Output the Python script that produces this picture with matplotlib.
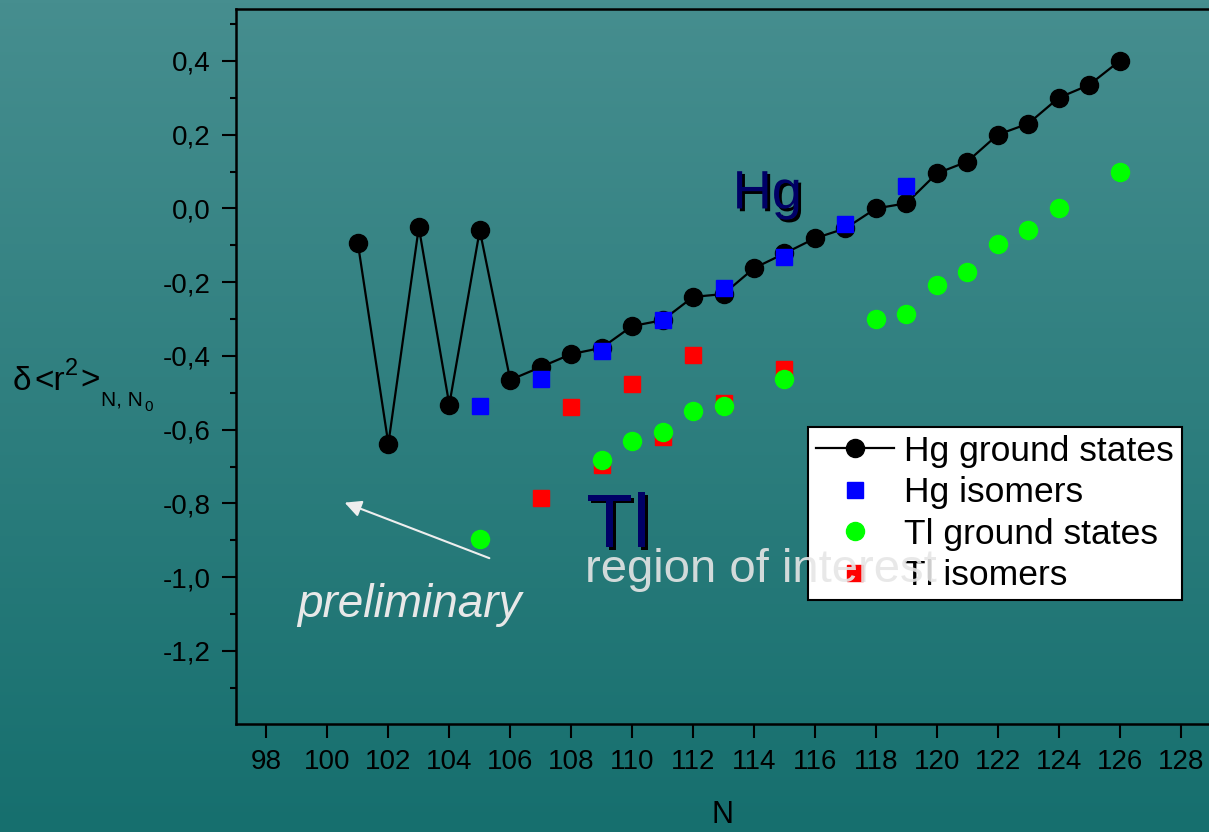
import numpy as np
import matplotlib
matplotlib.use('Agg')
from matplotlib import pyplot as plt
from matplotlib import patheffects as pe
from matplotlib.ticker import MultipleLocator, FuncFormatter

plt.rcParams['font.family'] = ['Liberation Sans', 'DejaVu Sans']

# Hg ground states
n_hg = [101, 102, 103, 104, 105, 106, 107, 108, 109, 110, 111, 112, 113,
        114, 115, 116, 117, 118, 119, 120, 121, 122, 123, 124, 125, 126]
r2_hg = [-0.095, -0.638, -0.051, -0.532, -0.059, -0.465, -0.43, -0.395, -0.378,
         -0.319, -0.303, -0.24, -0.232, -0.162, -0.122, -0.081, -0.054, 0.0,
         0.014, 0.095, 0.127, 0.2, 0.23, 0.3, 0.335, 0.4]

# Hg isomers
n_hg_iso = [105, 107, 109, 111, 113, 115, 117, 119]
r2_hg_iso = [-0.535, -0.462, -0.386, -0.303, -0.216, -0.132, -0.043, 0.062]

# Tl ground states
n_tl = [105, 109, 110, 111, 112, 113, 115, 118, 119, 120, 121, 122, 123, 124, 126]
r2_tl = [-0.897, -0.681, -0.63, -0.605, -0.549, -0.535, -0.462, -0.3, -0.286,
         -0.208, -0.173, -0.097, -0.059, 0.0, 0.1]

# Tl isomers
n_tl_iso = [107, 108, 109, 110, 111, 112, 113, 115]
r2_tl_iso = [-0.786, -0.538, -0.697, -0.476, -0.62, -0.397, -0.527, -0.435]

x_ticks = list(range(98, 129, 2))

W, H = 1209, 832
fig = plt.figure(figsize=(W / 100, H / 100), dpi=100)

# fondo con degradado vertical
bg = fig.add_axes([0, 0, 1, 1], zorder=-10)
grad = np.linspace(0, 1, 256).reshape(-1, 1)
c_top = np.array([70, 142, 143]) / 255
c_bot = np.array([22, 111, 110]) / 255
img = c_top[None, None, :] * (1 - grad[:, :, None]) + c_bot[None, None, :] * grad[:, :, None]
bg.imshow(img, aspect='auto', extent=[0, 1, 0, 1])
bg.axis('off')

ax = fig.add_axes([0.1952, 0.1298, 0.8317, 0.859])
ax.patch.set_alpha(0)

ax.plot(n_hg, r2_hg, '-o', color='black', lw=1.6, ms=13, label='Hg ground states', zorder=3)
ax.plot(n_hg_iso, r2_hg_iso, 's', color='#0000ff', ms=12, label='Hg isomers', zorder=4)
ax.plot(n_tl_iso, r2_tl_iso, 's', color='#ff0000', ms=12, label='Tl isomers', zorder=4)
ax.plot(n_tl, r2_tl, 'o', color='#00ff00', ms=13, label='Tl ground states', zorder=5)

ax.set_xlim(97, 130)
ax.set_ylim(-1.398, 0.54)
ax.set_xticks(x_ticks)
ax.yaxis.set_major_locator(MultipleLocator(0.2))
ax.yaxis.set_minor_locator(MultipleLocator(0.1))
ax.yaxis.set_major_formatter(FuncFormatter(lambda v, p: f'{v:.1f}'.replace('.', ',').replace('-0,0', '0,0')))
ax.tick_params(axis='both', direction='out', width=1.5, labelsize=20, colors='black')
ax.tick_params(axis='y', which='major', length=10, pad=8)
ax.tick_params(axis='y', which='minor', length=4.5, width=1.5)
ax.tick_params(axis='x', which='major', length=10, pad=8)
ax.spines['right'].set_visible(False)
for s in ['left', 'top', 'bottom']:
    ax.spines[s].set_linewidth(1.8)


def ftext(px, py, s, **kw):
    # texto en pixeles de la figura (origen arriba a la izquierda)
    fig.text(px / W, 1 - py / H, s, ha='left', va='baseline', **kw)


# etiquetas de los ejes
fig.text(723 / W, 1 - 815 / H, 'N', ha='center', va='center', fontsize=22)
ftext(13, 390, 'δ', fontsize=24)
ftext(34, 390, '<r', fontsize=24)
ftext(65, 375, '2', fontsize=17)
ftext(80, 390, '>', fontsize=24)
ftext(101, 406, 'N, N', fontsize=15)
ftext(144, 411, '0', fontsize=11)

# textos dentro del grafico
shadow = [pe.SimplePatchShadow(offset=(2, -2), shadow_rgbFace='black', alpha=1), pe.Normal()]
ax.text(113.3, 0.0, 'Hg', color='#000066', fontsize=39, ha='left', va='baseline',
        path_effects=shadow, zorder=6)
ax.text(108.5, -0.919, 'Tl', color='#000066', fontsize=55, ha='left', va='baseline',
        path_effects=shadow, zorder=6)
ax.text(99.0, -1.108, 'preliminary', color='#e8e8e8', fontsize=33, style='italic',
        ha='left', va='baseline', zorder=6)
ax.annotate('', xy=(100.48, -0.795), xytext=(105.4, -0.951),
            arrowprops=dict(arrowstyle='-|>', color='#eeeeee', lw=1.5, mutation_scale=25), zorder=6)

handles, labels = ax.get_legend_handles_labels()
order = [0, 1, 3, 2]
leg = ax.legend([handles[i] for i in order], [labels[i] for i in order],
                loc='upper left', bbox_to_anchor=(808 / W, 1 - 427 / H),
                bbox_transform=fig.transFigure, borderaxespad=0, fontsize=25.5,
                frameon=True, fancybox=False, framealpha=1, edgecolor='black',
                labelspacing=0.24, handlelength=2.2, handletextpad=0.3, borderpad=0.22)
leg.get_frame().set_linewidth(1.5)
leg.set_zorder(7)

ax.text(108.45, -1.014, 'region of interest', color='#e6e6e6', fontsize=34, alpha=0.9,
        ha='left', va='baseline', zorder=8)

fig.savefig('out.png', dpi=100)
